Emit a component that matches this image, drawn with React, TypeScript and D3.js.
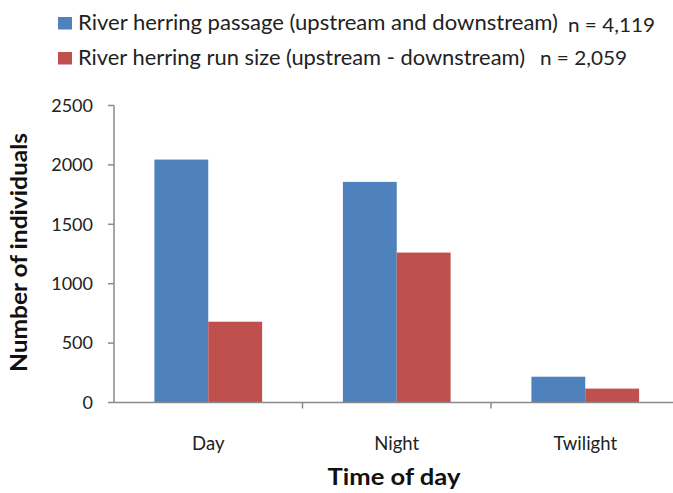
import React from "react";
import * as d3 from "d3";

const categories = ["Day", "Night", "Twilight"];
const seriesNames = [
  "River herring passage (upstream and downstream)",
  "River herring run size (upstream - downstream)",
];
const seriesN = ["n = 4,119", "n = 2,059"];
const passage = [2045, 1857, 217];
const runSize = [680, 1262, 117];
const yTicks = [0, 500, 1000, 1500, 2000, 2500];
const colors = ["#4F81BD", "#C0504D"];

const W = 673;
const H = 493;
const FONT = "Lato, 'Open Sans', sans-serif";

export default function App() {
  const left = 114;
  const right = 679.5;
  const top = 105.5;
  const bottom = 402.5;

  const x = d3.scaleBand<string>().domain(categories).range([left, right]);
  const y = d3.scaleLinear().domain([0, 2500]).range([bottom, top]);
  const bw = x.bandwidth() / 3.5;
  const series = [passage, runSize];
  const axisColor = "#8a8a8a";

  const legendTextLen = [480, 447];
  const nX = [568, 540];
  const nBase = [32, 65];

  return (
    <svg width={W} height={H} style={{ position: "absolute", left: 0, top: 0, background: "#fff" }}>
      {/* legend */}
      {seriesNames.map((name, i) => (
        <g key={name}>
          <rect x={58} y={17 + i * 35} width={14} height={12.5} fill={colors[i]} />
          <text
            x={78}
            y={29.5 + i * 35}
            fontFamily={FONT}
            fontSize={21.5}
            fill="#222"
            textLength={legendTextLen[i]}
            lengthAdjust="spacingAndGlyphs"
          >
            {name}
          </text>
          <text
            x={nX[i]}
            y={nBase[i]}
            fontFamily={FONT}
            fontSize={20}
            fill="#222"
            textLength={87}
            lengthAdjust="spacingAndGlyphs"
          >
            {seriesN[i]}
          </text>
        </g>
      ))}

      {/* y axis */}
      <line x1={left} x2={left} y1={top} y2={bottom} stroke={axisColor} strokeWidth={1.5} />
      {yTicks.map((t) => (
        <g key={t}>
          <line x1={left - 6} x2={left} y1={y(t)} y2={y(t)} stroke={axisColor} strokeWidth={1.5} />
          <text x={93} y={y(t)} dy="0.35em" textAnchor="end" fontFamily={FONT} fontSize={18} fill="#222">
            {t}
          </text>
        </g>
      ))}

      {/* bars */}
      {categories.map((c, ci) =>
        series.map((s, si) => {
          const x0 = (x(c) as number) + x.bandwidth() / 2 - bw + si * bw;
          return (
            <rect
              key={c + si}
              x={x0}
              y={y(s[ci])}
              width={bw}
              height={bottom - y(s[ci])}
              fill={colors[si]}
            />
          );
        })
      )}

      {/* x axis */}
      <line x1={left} x2={right} y1={bottom} y2={bottom} stroke={axisColor} strokeWidth={1.5} />
      {categories.slice(1).map((c) => (
        <line
          key={c}
          x1={x(c) as number}
          x2={x(c) as number}
          y1={bottom}
          y2={bottom + 6}
          stroke={axisColor}
          strokeWidth={1.5}
        />
      ))}
      {categories.map((c) => (
        <text
          key={c}
          x={(x(c) as number) + x.bandwidth() / 2}
          y={449.5}
          textAnchor="middle"
          fontFamily={FONT}
          fontSize={18.5}
          fill="#222"
        >
          {c}
        </text>
      ))}

      {/* titles */}
      <text
        x={394}
        y={485}
        textAnchor="middle"
        fontFamily={FONT}
        fontSize={23}
        fontWeight="bold"
        fill="#111"
        textLength={133}
        lengthAdjust="spacingAndGlyphs"
      >
        Time of day
      </text>
      <text
        transform={`translate(27,252.5) rotate(-90)`}
        textAnchor="middle"
        fontFamily={FONT}
        fontSize={22.5}
        fontWeight="bold"
        fill="#111"
        textLength={239}
        lengthAdjust="spacingAndGlyphs"
      >
        Number of individuals
      </text>
    </svg>
  );
}
